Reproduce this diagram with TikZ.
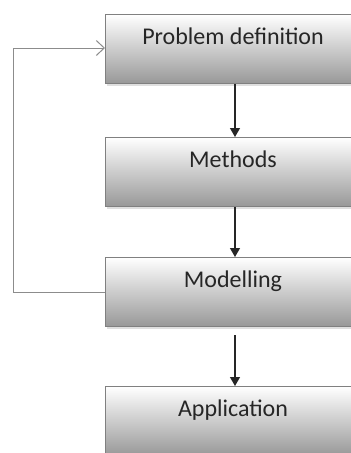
\documentclass[tikz,border=0pt]{standalone}
\usepackage{fontspec}
\setmainfont{Carlito}
\usetikzlibrary{arrows.meta,shadows}
\definecolor{boxedge}{RGB}{128,128,128}
\definecolor{boxlow}{RGB}{152,152,152}
\definecolor{loopline}{RGB}{140,140,140}
\tikzset{
  stage/.style={rectangle, anchor=north west, draw=boxedge, line width=1pt,
    top color=white, bottom color=boxlow, minimum width=255pt,
    inner sep=0pt, text height=30pt, text depth=39pt,
    font=\fontsize{24}{28}\selectfont, text=black!85,
    drop shadow={shadow xshift=1.5pt, shadow yshift=-2.5pt, opacity=0.25}},
  flow/.style={-{Triangle[length=9pt,width=10pt]}, line width=1.2pt, black!85},
  back/.style={-{Straight Barb[length=8pt,width=15pt]}, line width=1pt, loopline}
}
\begin{document}
\begin{tikzpicture}[x=1pt,y=-1pt]
\useasboundingbox (0,0) rectangle (351,453);
\clip (0,0) rectangle (351,453);
\node[stage] (prob) at (105,14) {Problem definition};
\node[stage] (meth) at (105,137) {Methods};
\node[stage] (model) at (105,257) {Modelling};
\node[stage] (app) at (105,386) {Application};
\coordinate (a3) at ([yshift=-8pt]model.south);
\draw[flow] ([xshift=2pt]prob.south) -- ([xshift=2pt]meth.north);
\draw[flow] ([xshift=2pt]meth.south) -- ([xshift=2pt]model.north);
\draw[flow] ([xshift=2pt]a3) -- ([xshift=2pt]app.north);
\draw[back] (model.west) -| (13,48) -- (prob.west |- 0,48);
\end{tikzpicture}
\end{document}
